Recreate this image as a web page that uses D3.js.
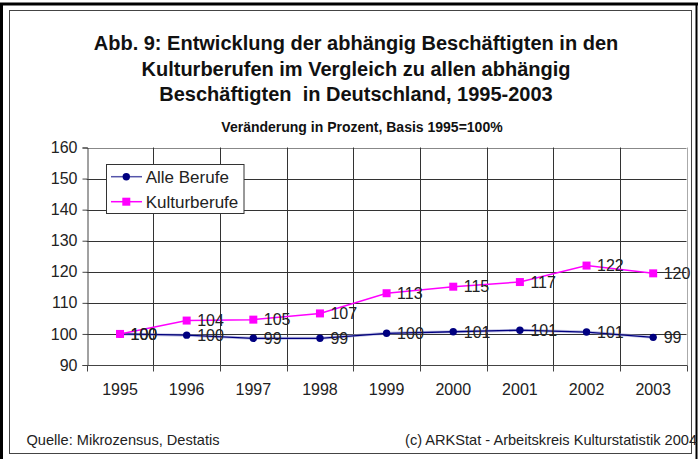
<!DOCTYPE html>
<html>
<head>
<meta charset="utf-8">
<script src="https://cdn.jsdelivr.net/npm/d3@7"></script>
<style>
  html, body { margin: 0; padding: 0; background: #fff; }
  svg { display: block; font-family: "Liberation Sans", Arial, sans-serif; }
  .pre { white-space: pre; }
</style>
</head>
<body>
<svg id="chart" width="698" height="459"></svg>
<script>
// ---- data ----
const years = ["1995","1996","1997","1998","1999","2000","2001","2002","2003"];
const alleBerufe = [100, 99.6, 98.6, 98.6, 100.2, 100.7, 101.2, 100.6, 98.9];
const kulturberufe = [100, 104.3, 104.6, 106.6, 113.1, 115.2, 116.7, 122.0, 119.5];
const yTicks = [90, 100, 110, 120, 130, 140, 150, 160];
const seriesNames = ["Alle Berufe", "Kulturberufe"];
const titleLines = [
  "Abb. 9: Entwicklung der abhängig Beschäftigten in den",
  "Kulturberufen im Vergleich zu allen abhängig",
  "Beschäftigten  in Deutschland, 1995-2003"
];
const subtitle = "Veränderung in Prozent, Basis 1995=100%";
const sourceLeft = "Quelle: Mikrozensus, Destatis";
const sourceRight = "(c) ARKStat - Arbeitskreis Kulturstatistik 2004";

// ---- layout ----
const svg = d3.select("#chart");
const W = 698, H = 459;
const plot = { left: 86.7, right: 686.5, top: 147.5, bottom: 365 };
const navy = "#000080", pink = "#ff00ff", txt = "#222";

// frame
svg.append("line").attr("x1", 1.5).attr("x2", 1.5).attr("y1", 3).attr("y2", H).attr("stroke", "#000").attr("stroke-width", 3);
svg.append("line").attr("x1", 0).attr("x2", W).attr("y1", 4).attr("y2", 4).attr("stroke", "#000").attr("stroke-width", 3);
svg.append("line").attr("x1", 696.5).attr("x2", 696.5).attr("y1", 3).attr("y2", H).attr("stroke", "#000").attr("stroke-width", 2);
svg.append("rect").attr("x", 9.5).attr("y", 10.5).attr("width", 682).attr("height", 443)
  .attr("fill", "none").attr("stroke", "#444").attr("stroke-width", 1);

// titles
svg.append("g").selectAll("text").data(titleLines).join("text")
  .attr("class", "pre")
  .attr("x", 356).attr("y", (d, i) => 50 + i * 25.5)
  .attr("text-anchor", "middle").attr("font-size", 20).attr("font-weight", "bold").attr("fill", "#111")
  .text(d => d);
svg.append("text").attr("x", 362).attr("y", 132).attr("text-anchor", "middle")
  .attr("font-size", 14).attr("font-weight", "bold").attr("fill", "#111").text(subtitle);

// scales
const x = d3.scaleBand().domain(years).range([plot.left, plot.right]).padding(0);
const y = d3.scaleLinear().domain([90, 160]).range([plot.bottom, plot.top]);
const cx = d => x(d) + x.bandwidth() / 2;

// gridlines
const grid = svg.append("g");
grid.selectAll("line.h").data(yTicks).join("line").attr("class", "h")
  .attr("x1", plot.left).attr("x2", plot.right)
  .attr("y1", d => Math.round(y(d)) + 0.5).attr("y2", d => Math.round(y(d)) + 0.5)
  .attr("stroke", d => d === 160 ? "#888" : "#333").attr("stroke-width", 1);
grid.selectAll("line.v").data(years.slice(1)).join("line").attr("class", "v")
  .attr("x1", d => Math.round(x(d)) + 0.5).attr("x2", d => Math.round(x(d)) + 0.5)
  .attr("y1", plot.top).attr("y2", plot.bottom)
  .attr("stroke", "#333").attr("stroke-width", 1);
grid.append("line").attr("x1", Math.round(plot.right) + 0.5).attr("x2", Math.round(plot.right) + 0.5)
  .attr("y1", plot.top).attr("y2", plot.bottom).attr("stroke", "#aaa");

// axes
const yAxis = svg.append("g").attr("transform", `translate(${Math.round(plot.left) + 0.5},0)`)
  .call(d3.axisLeft(y).tickValues(yTicks).tickSize(5).tickPadding(5).tickFormat(d3.format("d")));
const xAxis = svg.append("g").attr("transform", `translate(0,${Math.round(plot.bottom) + 0.5})`)
  .call(d3.axisBottom(x).tickSize(0).tickPadding(18));
[yAxis, xAxis].forEach(a => {
  a.select(".domain").attr("stroke", "#444");
  a.selectAll(".tick line").attr("stroke", "#444");
  a.selectAll("text").attr("font-size", 16).attr("fill", txt).attr("font-family", "Liberation Sans, Arial, sans-serif");
});
xAxis.select(".domain").remove();
xAxis.append("line").attr("x1", plot.left).attr("x2", plot.right + 1).attr("y1", 0).attr("y2", 0).attr("stroke", "#444");
// x category boundary ticks
xAxis.selectAll("line.bt").data(years.concat(["end"])).join("line").attr("class", "bt")
  .attr("x1", (d, i) => Math.round(plot.left + i * x.bandwidth()) + 0.5)
  .attr("x2", (d, i) => Math.round(plot.left + i * x.bandwidth()) + 0.5)
  .attr("y1", 0).attr("y2", 6).attr("stroke", "#444");

// lines
const line = arr => d3.line().x((d, i) => cx(years[i])).y(d => y(d))(arr);
svg.append("path").attr("d", line(alleBerufe)).attr("fill", "none").attr("stroke", "#9a9ad0").attr("stroke-width", 3).attr("opacity", 0.6);
svg.append("path").attr("d", line(alleBerufe)).attr("fill", "none").attr("stroke", navy).attr("stroke-width", 1.3);
svg.append("path").attr("d", line(kulturberufe)).attr("fill", "none").attr("stroke", pink).attr("stroke-width", 1.5);

// markers
svg.append("g").selectAll("circle").data(alleBerufe).join("circle")
  .attr("cx", (d, i) => cx(years[i])).attr("cy", d => y(d)).attr("r", 3.7).attr("fill", navy);
svg.append("g").selectAll("rect").data(kulturberufe).join("rect")
  .attr("x", (d, i) => cx(years[i]) - 4).attr("y", d => y(d) - 4).attr("width", 8).attr("height", 8).attr("fill", pink);

// data labels
const labels = svg.append("g").attr("font-size", 16).attr("fill", txt);
[alleBerufe, kulturberufe].forEach(arr => {
  labels.selectAll(null).data(arr).join("text")
    .attr("x", (d, i) => cx(years[i]) + 10.5).attr("y", d => y(d)).attr("dy", "0.36em")
    .text(d => d3.format(".0f")(d));
});

// legend
const lg = svg.append("g");
lg.append("rect").attr("x", 106.5).attr("y", 164.5).attr("width", 137.5).attr("height", 49)
  .attr("fill", "#fff").attr("stroke", "#333");
const ly = [176.7, 201.7];
seriesNames.forEach((name, i) => {
  const col = i === 0 ? navy : pink;
  lg.append("line").attr("x1", 111).attr("x2", 142).attr("y1", ly[i]).attr("y2", ly[i])
    .attr("stroke", i === 0 ? "#5555aa" : pink).attr("stroke-width", 1.5);
  if (i === 0) lg.append("circle").attr("cx", 126.3).attr("cy", ly[i]).attr("r", 3.7).attr("fill", col);
  else lg.append("rect").attr("x", 122.3).attr("y", ly[i] - 4).attr("width", 8).attr("height", 8).attr("fill", col);
  lg.append("text").attr("x", 145.7).attr("y", ly[i]).attr("dy", "0.36em")
    .attr("font-size", 17).attr("fill", txt).text(name);
});

// footer
svg.append("text").attr("x", 26.5).attr("y", 445).attr("font-size", 14.6).attr("fill", txt).text(sourceLeft);
svg.append("text").attr("x", 697).attr("y", 445).attr("text-anchor", "end").attr("font-size", 14.6).attr("fill", txt).text(sourceRight);
</script>
</body>
</html>
